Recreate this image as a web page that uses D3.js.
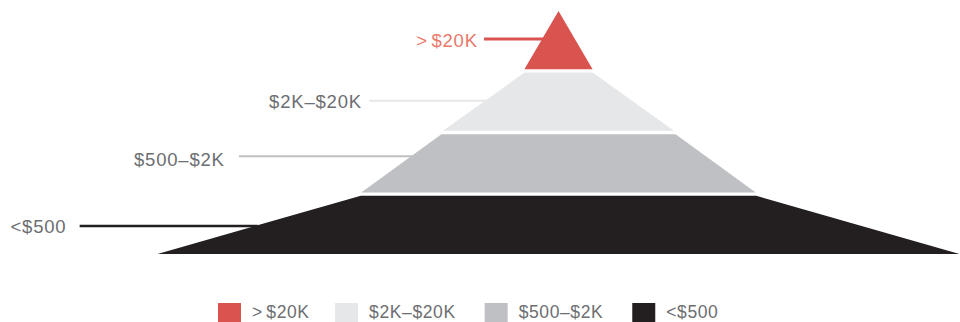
<!DOCTYPE html>
<html>
<head>
<meta charset="utf-8">
<script src="https://cdn.jsdelivr.net/npm/d3@7"></script>
<style>
  html, body { margin: 0; padding: 0; background: #fff; }
  svg { display: block; }
  text { font-family: "Liberation Sans", Arial, Helvetica, sans-serif; }
</style>
</head>
<body>
<svg id="chart" width="960" height="322"></svg>
<script>
// Income tiers, top of the pyramid first
const tiers = [">$20K", "$2K\u2013$20K", "$500\u2013$2K", "<$500"];
// Width of each tier at its top and bottom edge, as % of the pyramid base
const topWidth = [0, 8.5, 29.2, 49.3];
const bottomWidth = [8.5, 28.8, 49.2, 100];
const colors = ["#d9534f", "#e6e7e8", "#bfc0c3", "#231f20"];
const labelColors = ["#e8796b", "#6d6e71", "#6d6e71", "#6d6e71"];

const svg = d3.select("#chart");

const cx = 558.5;
const xw = d3.scaleLinear().domain([0, 100]).range([0, 802]);
const y = d3.scaleBand().domain(tiers).range([11, 254]).paddingInner(0.055);

const rows = tiers.map((t, i) => ({
  tier: t, top: topWidth[i], bottom: bottomWidth[i], color: colors[i], labelColor: labelColors[i], i
}));

// Tier trapezoids (the top tier collapses to a triangle)
svg.append("g").selectAll("path").data(rows).join("path")
  .attr("d", d => {
    const y0 = y(d.tier), y1 = y0 + y.bandwidth();
    const t = xw(d.top) / 2, b = xw(d.bottom) / 2;
    return `M${cx - t},${y0}L${cx + t},${y0}L${cx + b},${y1}L${cx - b},${y1}Z`;
  })
  .attr("fill", d => d.color);

// Writes a tier name, opening up the gap after a leading ">"
function tierText(sel, name, gap) {
  if (name[0] === ">" && gap) {
    sel.append("tspan").text(name[0]);
    sel.append("tspan").attr("dx", gap).text(name.slice(1));
  } else {
    sel.text(name);
  }
}

// Leader lines and labels on the left of each tier
const leaderLen = [60, 118, 174, 178];
const leaderShift = [-1, -1, -7, 1];
const leaderWidth = [3, 2, 2, 2.5];
const labelGap = [7, 8, 15, 14];
const labelSize = 18.5, labelSpacing = 0.8;

rows.forEach(d => {
  const y0 = y(d.tier), h = y.bandwidth();
  const ly = y0 + h / 2 + leaderShift[d.i];
  const frac = (ly - y0) / h;
  const halfW = (xw(d.top) + (xw(d.bottom) - xw(d.top)) * frac) / 2;
  const edge = cx - halfW + 2;
  const start = edge - leaderLen[d.i];
  svg.append("line")
    .attr("x1", start).attr("x2", edge)
    .attr("y1", ly).attr("y2", ly)
    .attr("stroke", d.color)
    .attr("stroke-width", leaderWidth[d.i]);
  const t = svg.append("text")
    .attr("x", start - labelGap[d.i] + labelSpacing)
    .attr("y", ly + (d.i === 2 ? 3.5 : 1))
    .attr("dy", "0.35em")
    .attr("text-anchor", "end")
    .attr("font-size", labelSize)
    .attr("letter-spacing", labelSpacing)
    .attr("fill", d.labelColor);
  tierText(t, d.tier, 3.5);
});

// Legend along the bottom
const legend = svg.append("g");
let lx = 218;
rows.forEach(d => {
  legend.append("rect")
    .attr("x", lx).attr("y", 303)
    .attr("width", 23).attr("height", 23)
    .attr("fill", d.color);
  const t = legend.append("text")
    .attr("x", lx + 34).attr("y", 318)
    .attr("font-size", 17.5)
    .attr("letter-spacing", 0.6)
    .attr("fill", "#6d6e71");
  tierText(t, d.tier, 3.5);
  lx += 34 + t.node().getComputedTextLength() + 29;
});
</script>
</body>
</html>
